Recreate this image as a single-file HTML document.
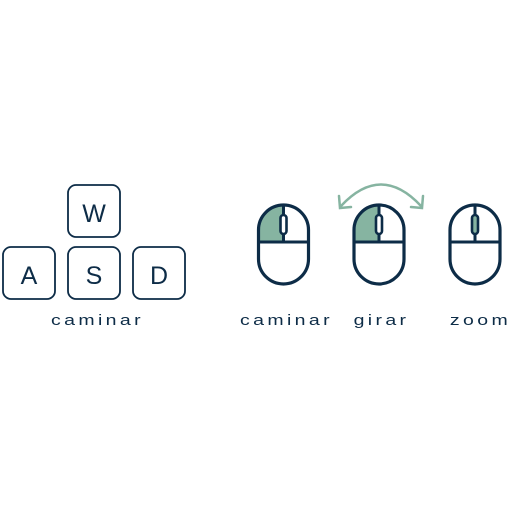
<!DOCTYPE html>
<html><head><meta charset="utf-8">
<style>
html,body{margin:0;padding:0;background:#fff;}
svg{display:block;}
text{font-family:"Liberation Sans",sans-serif;fill:#0d2c47;}
.lbl{font-size:15px;letter-spacing:2.6px;text-anchor:middle;}
</style></head>
<body>
<svg width="512" height="512" viewBox="0 0 512 512">
  <g fill="none" stroke="#0d2c47" stroke-width="1.8">
    <g><rect x="68" y="185" width="52" height="52" rx="8"/><text x="94" y="222" font-size="25" text-anchor="middle" stroke="none">W</text></g>
    <g><rect x="3" y="247" width="52" height="52" rx="8"/><text x="29" y="284" font-size="25" text-anchor="middle" stroke="none">A</text></g>
    <g><rect x="68" y="247" width="52" height="52" rx="8"/><text x="94" y="284" font-size="25" text-anchor="middle" stroke="none">S</text></g>
    <g><rect x="133" y="247" width="52" height="52" rx="8"/><text x="159" y="284" font-size="25" text-anchor="middle" stroke="none">D</text></g>
  </g>
  <g transform="translate(97.5,325) scale(1.3,1)"><text class="lbl" x="0" y="0">caminar</text></g>

  <defs>
    <g id="mouse">
      <rect x="-25" y="0" width="50" height="79" rx="25" fill="none" stroke="#0d2c47" stroke-width="3.2"/>
      <line x1="-25" y1="37" x2="25" y2="37" stroke="#0d2c47" stroke-width="3"/>
      <line x1="0" y1="0" x2="0" y2="37" stroke="#0d2c47" stroke-width="3"/>
    </g>
  </defs>

  <g transform="translate(283.5,205)">
    <path d="M-23.5 35.5 L-23.5 24 A23.5 23.5 0 0 1 0 0.5 L0 35.5 Z" fill="#86b4a1"/>
    <use href="#mouse"/>
    <rect x="-3" y="10" width="6" height="19" rx="3" fill="#fff" stroke="#0d2c47" stroke-width="2.6"/>
  </g>
  <g transform="translate(379,205)">
    <path d="M-23.5 35.5 L-23.5 24 A23.5 23.5 0 0 1 0 0.5 L0 35.5 Z" fill="#86b4a1"/>
    <use href="#mouse"/>
    <rect x="-3" y="10" width="6" height="19" rx="3" fill="#fff" stroke="#0d2c47" stroke-width="2.6"/>
  </g>
  <g transform="translate(475,205)">
    <use href="#mouse"/>
    <rect x="-3" y="10" width="6" height="19" rx="3" fill="#86b4a1" stroke="#0d2c47" stroke-width="2.6"/>
  </g>

  <g fill="none" stroke="#86b4a1" stroke-width="2.5" stroke-linecap="round">
    <path d="M341 206 Q381 163 421 206"/>
    <path d="M339 196 L340 208 L351 207"/>
    <path d="M423 196 L422 208 L411 207"/>
  </g>

  <g transform="translate(286.5,325) scale(1.3,1)"><text class="lbl" x="0" y="0">caminar</text></g>
  <g transform="translate(381.5,325) scale(1.3,1)"><text class="lbl" x="0" y="0">girar</text></g>
  <g transform="translate(480.5,325) scale(1.3,1)"><text class="lbl" x="0" y="0">zoom</text></g>
</svg>
</body></html>
